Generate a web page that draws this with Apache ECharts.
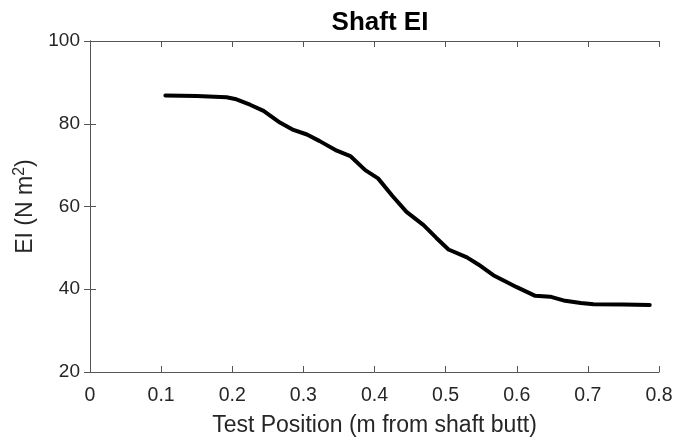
<!DOCTYPE html>
<html>
<head>
<meta charset="utf-8">
<script src="https://cdn.jsdelivr.net/npm/echarts@6/dist/echarts.min.js"></script>
<style>html,body{margin:0;padding:0;background:#fff}#c{width:678px;height:442px}</style>
</head>
<body>
<div id="c"></div>
<script>
const positions = [0.106, 0.150, 0.192, 0.204, 0.225, 0.244, 0.267, 0.286, 0.305, 0.323, 0.347, 0.366, 0.387, 0.405, 0.425, 0.445, 0.469, 0.487, 0.504, 0.530, 0.546, 0.567, 0.585, 0.600, 0.626, 0.647, 0.668, 0.690, 0.708, 0.750, 0.787];
const eiValues  = [86.8, 86.7, 86.4, 86.0, 84.6, 83.1, 80.3, 78.5, 77.4, 75.8, 73.5, 72.2, 68.8, 66.8, 62.6, 58.7, 55.5, 52.4, 49.6, 47.7, 46.0, 43.4, 41.8, 40.5, 38.4, 38.2, 37.2, 36.7, 36.4, 36.3, 36.2];
const xTicks = [0, 0.1, 0.2, 0.3, 0.4, 0.5, 0.6, 0.7, 0.8];
const yTicks = [20, 40, 60, 80, 100];

const axisCol = '#555555';
const textCol = '#262626';
const font = 'Liberation Sans, Arial, Helvetica, sans-serif';
const chart = echarts.init(document.getElementById('c'), null, {renderer: 'canvas'});
const common = {
  axisLine: {show: true, lineStyle: {color: axisCol, width: 1}},
  axisTick: {show: true, inside: true, length: 6, lineStyle: {color: axisCol}},
  splitLine: {show: false}
};
chart.setOption({
  animation: false,
  backgroundColor: '#ffffff',
  title: {
    text: 'Shaft EI', left: 375, top: 5, textAlign: 'center',
    textStyle: {fontFamily: font, fontWeight: 'bold', fontSize: 26, color: '#000'}
  },
  grid: {left: 90, right: 19, top: 41, bottom: 70, containLabel: false},
  xAxis: [
    Object.assign({
      type: 'value', min: xTicks[0], max: xTicks[xTicks.length - 1], interval: 0.1, position: 'bottom',
      name: 'Test Position (m from shaft butt)', nameLocation: 'middle', nameGap: 42,
      nameTextStyle: {fontFamily: font, fontSize: 23, color: textCol},
      axisLabel: {fontFamily: font, fontSize: 19.5, color: textCol, margin: 14,
        formatter: v => xTicks.some(t => Math.abs(t - v) < 1e-9) ? String(Math.round(v * 10) / 10) : ''}
    }, common),
    Object.assign({
      type: 'value', min: xTicks[0], max: xTicks[xTicks.length - 1], interval: 0.1, position: 'top',
      axisLabel: {show: false}
    }, common)
  ],
  yAxis: [
    Object.assign({
      type: 'value', min: yTicks[0], max: yTicks[yTicks.length - 1], interval: 20, position: 'left',
      name: 'EI (N m{sup|2})', nameLocation: 'middle', nameGap: 48, nameRotate: 90,
      nameTextStyle: {fontFamily: font, fontSize: 23, color: textCol,
        rich: {sup: {fontFamily: font, fontSize: 16, color: textCol, verticalAlign: 'top', padding: [0, 0, 12, 0]}}},
      axisLabel: {fontFamily: font, fontSize: 19, color: textCol, margin: 10}
    }, common),
    Object.assign({
      type: 'value', min: yTicks[0], max: yTicks[yTicks.length - 1], interval: 20, position: 'right',
      axisLabel: {show: false}
    }, common)
  ],
  series: [{
    type: 'line', xAxisIndex: 0, yAxisIndex: 0,
    data: positions.map((x, i) => [x, eiValues[i]]),
    showSymbol: false, smooth: false,
    lineStyle: {color: '#000', width: 4, join: 'round', cap: 'round'}
  }]
});
</script>
</body>
</html>
